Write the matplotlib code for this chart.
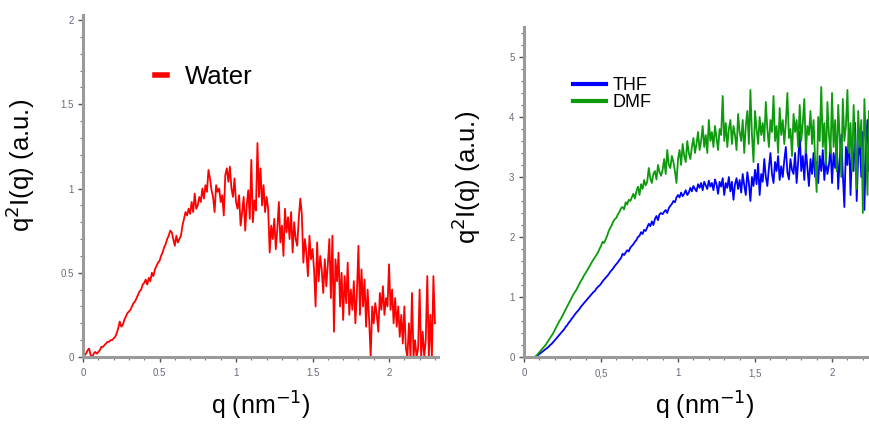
import numpy as np
import matplotlib.pyplot as plt
from matplotlib.ticker import MultipleLocator

plt.rcParams['font.family'] = ['Liberation Sans', 'DejaVu Sans']

# water, q step 0.01 from 0 to 2.30
q_water = np.round(np.arange(0, 231) * 0.01, 2)
water = [
    0.0, 0.01, 0.02, 0.04, 0.05, 0.01, 0.0, 0.02, 0.03, 0.02,
    0.03, 0.04, 0.06, 0.06, 0.07, 0.08, 0.09, 0.09, 0.10, 0.10,
    0.11, 0.12, 0.14, 0.17, 0.21, 0.18, 0.19, 0.22, 0.24, 0.26,
    0.27, 0.28, 0.30, 0.32, 0.33, 0.35, 0.37, 0.39, 0.40, 0.43,
    0.44, 0.46, 0.43, 0.47, 0.45, 0.50, 0.48, 0.52, 0.54, 0.56,
    0.57, 0.60, 0.62, 0.65, 0.67, 0.70, 0.72, 0.75, 0.74, 0.70,
    0.66, 0.72, 0.68, 0.70, 0.72, 0.78, 0.82, 0.86, 0.84, 0.88,
    0.85, 0.92, 0.86, 0.97, 0.88, 0.90, 0.95, 0.92, 1.00, 0.94,
    1.02, 0.98, 1.11, 1.06, 0.99, 0.95, 0.86, 1.02, 0.98, 1.00,
    0.92, 0.96, 0.84, 1.08, 1.12, 1.04, 1.13, 1.00, 0.95, 1.06,
    0.92, 0.88, 0.96, 0.78, 0.86, 0.95, 0.75, 0.90, 0.99, 0.82,
    1.17, 0.80, 0.93, 0.87, 1.27, 0.95, 1.12, 0.90, 1.02, 0.86,
    0.95, 0.88, 0.62, 0.78, 0.70, 0.82, 0.64, 0.76, 0.92, 0.68,
    0.78, 0.60, 0.88, 0.74, 0.83, 0.70, 0.86, 0.62, 0.80, 0.70,
    0.66, 0.82, 0.94, 0.85, 0.56, 0.70, 0.62, 0.48, 0.72, 0.58,
    0.64, 0.52, 0.30, 0.68, 0.45, 0.60, 0.52, 0.38, 0.58, 0.42,
    0.55, 0.70, 0.35, 0.72, 0.15, 0.58, 0.45, 0.62, 0.30, 0.50,
    0.22, 0.48, 0.32, 0.56, 0.25, 0.40, 0.28, 0.45, 0.20, 0.38,
    0.66, 0.25, 0.52, 0.30, 0.46, 0.18, 0.40, 0.22, 0.00, 0.30,
    0.20, 0.32, 0.25, 0.15, 0.38, 0.28, 0.42, 0.25, 0.35, 0.30,
    0.55, 0.28, 0.40, 0.20, 0.35, 0.18, 0.30, 0.12, 0.25, 0.08,
    0.30, 0.05, 0.00, 0.20, 0.00, 0.38, 0.00, 0.10, 0.00, 0.05,
    0.40, 0.00, 0.15, 0.00, 0.10, 0.48, 0.00, 0.25, 0.00, 0.48,
    0.20,
]

# THF / DMF, q step 0.01 from 0 to 2.25
q_solv = np.round(np.arange(0, 226) * 0.01, 2)
thf = [
    0, 0, 0, 0, 0, 0, 0, 0, 0.01, 0.03,
    0.05, 0.07, 0.09, 0.11, 0.13, 0.15, 0.17, 0.20, 0.22, 0.25,
    0.28, 0.31, 0.34, 0.37, 0.40, 0.43, 0.46, 0.50, 0.53, 0.57,
    0.60, 0.64, 0.67, 0.71, 0.74, 0.77, 0.80, 0.84, 0.87, 0.90,
    0.93, 0.96, 0.99, 1.02, 1.05, 1.08, 1.10, 1.14, 1.17, 1.19,
    1.22, 1.26, 1.29, 1.32, 1.35, 1.38, 1.42, 1.45, 1.48, 1.52,
    1.55, 1.58, 1.62, 1.65, 1.72, 1.70, 1.74, 1.78, 1.76, 1.82,
    1.85, 1.88, 1.92, 1.95, 2.00, 2.02, 2.08, 2.05, 2.12, 2.10,
    2.16, 2.22, 2.18, 2.26, 2.20, 2.30, 2.35, 2.28, 2.38, 2.40,
    2.38, 2.42, 2.45, 2.40, 2.48, 2.52, 2.55, 2.60, 2.58, 2.66,
    2.70, 2.66, 2.74, 2.68, 2.72, 2.78, 2.70, 2.74, 2.82, 2.76,
    2.85, 2.80, 2.76, 2.88, 2.82, 2.90, 2.78, 2.92, 2.86, 2.80,
    2.94, 2.84, 2.90, 2.78, 2.96, 2.88, 2.72, 2.92, 2.84, 2.98,
    2.70, 2.90, 2.82, 3.00, 2.76, 2.92, 2.62, 2.88, 2.98, 2.80,
    2.95, 2.74, 3.05, 2.86, 2.70, 3.08, 2.90, 2.60, 3.00, 2.85,
    3.12, 2.88, 3.22, 2.70, 3.05, 2.92, 3.30, 3.00, 2.85, 3.15,
    3.40, 3.05, 2.90, 3.25, 3.10, 3.35, 2.95, 3.18, 3.00, 3.28,
    3.50, 3.08, 2.96, 3.30, 3.12, 3.05, 3.40, 2.90, 3.25, 3.75,
    3.10, 3.35, 2.95, 3.48, 3.15, 2.85, 3.30, 3.05, 3.40, 3.00,
    3.25, 2.90, 3.35, 3.10, 3.45, 2.95, 3.30, 3.05, 3.20, 3.50,
    2.90, 3.40, 3.15, 3.60, 2.80, 3.30, 3.70, 3.05, 2.50, 3.50,
    3.20, 3.80, 2.70, 3.45, 3.10, 3.90, 2.60, 3.35, 3.60, 3.00,
    3.75, 2.45, 3.50, 3.95, 3.10, 3.60,
]
dmf = [
    0, 0, 0, 0, 0, 0, 0, 0, 0.02, 0.05,
    0.08, 0.11, 0.14, 0.17, 0.20, 0.24, 0.28, 0.32, 0.36, 0.40,
    0.45, 0.50, 0.55, 0.60, 0.64, 0.69, 0.74, 0.79, 0.84, 0.89,
    0.94, 0.99, 1.04, 1.08, 1.12, 1.17, 1.22, 1.27, 1.31, 1.36,
    1.40, 1.44, 1.49, 1.53, 1.58, 1.62, 1.66, 1.70, 1.74, 1.80,
    1.85, 1.92, 1.90, 1.96, 2.02, 2.10, 2.15, 2.20, 2.26, 2.30,
    2.32, 2.38, 2.42, 2.48, 2.50, 2.46, 2.58, 2.54, 2.62, 2.60,
    2.66, 2.72, 2.64, 2.76, 2.84, 2.70, 2.88, 2.80, 2.95, 2.86,
    2.92, 3.15, 2.98, 2.90, 3.05, 3.10, 2.96, 3.20, 3.08, 3.02,
    3.12, 3.30, 3.05, 3.45, 3.20, 3.15, 3.35, 3.25, 3.10, 2.90,
    3.30, 3.45, 3.20, 3.55, 3.35, 3.25, 3.60, 3.40, 3.30, 3.50,
    3.65, 3.40, 3.55, 3.75, 3.45, 3.60, 3.85, 3.50, 3.70, 3.40,
    3.95, 3.60, 3.75, 3.50, 3.85, 3.65, 3.45, 3.80, 3.70, 4.35,
    3.60, 3.90, 3.50, 3.80, 3.95, 3.55, 3.85, 3.70, 3.45, 4.05,
    3.75, 3.60, 3.95, 3.40, 3.85, 4.10, 3.55, 4.45, 3.70, 3.25,
    4.10, 3.80, 3.55, 4.00, 3.70, 3.90, 3.60, 4.25, 3.80, 3.50,
    3.95, 3.75, 4.35, 3.60, 3.85, 3.40, 4.15, 3.70, 3.95, 3.55,
    3.90, 4.40, 3.65, 3.80, 3.35, 4.05, 3.75, 3.95, 3.50, 4.20,
    3.60, 3.90, 4.30, 3.40, 3.85, 3.70, 4.10, 3.55, 3.95, 3.30,
    2.75, 4.00, 3.60, 4.50, 3.50, 3.90, 3.20, 4.25, 3.70, 3.40,
    4.40, 3.50, 3.95, 3.10, 4.20, 3.65, 3.00, 4.30, 3.60, 3.85,
    4.45, 3.40, 3.90, 3.10, 4.20, 3.55, 2.80, 4.10, 3.50, 3.95,
    2.40, 4.30, 3.60, 2.70, 4.10, 3.40,
]

left_xticks = [0, 0.5, 1, 1.5, 2]
left_xlabels = ["0", "0.5", "1", "1.5", "2"]
left_yticks = [0, 0.5, 1, 1.5, 2]
left_ylabels = ["0", "0.5", "1", "1.5", "2"]
right_xticks = [0, 0.5, 1, 1.5, 2]
right_xlabels = ["0", "0,5", "1", "1,5", "2"]
right_yticks = [0, 1, 2, 3, 4, 5]
right_ylabels = ["0", "1", "2", "3", "4", "5"]

W, H = 869, 425
fig = plt.figure(figsize=(W / 100, H / 100), dpi=100)
ax1 = fig.add_axes([83 / W, 68 / H, 355 / W, 342 / H])
ax2 = fig.add_axes([524 / W, 68 / H, 345 / W, 330 / H])


def style(ax):
    for s in ["top", "right"]:
        ax.spines[s].set_visible(False)
    for s in ["left", "bottom"]:
        ax.spines[s].set_color("#9a9a9a")
        ax.spines[s].set_linewidth(2.2)
    ax.tick_params(which="major", length=3.8, width=1, color="#555555",
                   labelsize=7, labelcolor="#6a6a7a", pad=3)
    ax.tick_params(which="minor", length=2.4, width=0.8, color="#777777")
    ax.tick_params(axis="x", which="major", pad=10)
    # baseline alignment so "0,5" sits level with "0"
    for lbl in ax.get_xticklabels():
        lbl.set_verticalalignment("baseline")


ax1.plot(q_water, water, color="#ff0000", lw=1.3, label="Water")
ax1.set_xlim(0, 2.32)
ax1.set_ylim(0, 2.03)
ax1.set_xticks(left_xticks)
ax1.set_xticklabels(left_xlabels)
ax1.set_yticks(left_yticks)
ax1.set_yticklabels(left_ylabels)
ax1.xaxis.set_minor_locator(MultipleLocator(0.1))
ax1.yaxis.set_minor_locator(MultipleLocator(0.1))
style(ax1)
ax1.set_ylabel("q$^2$I(q) (a.u.)", fontsize=18.5)
ax1.yaxis.set_label_coords(-0.13, 0.56)
ax1.set_xlabel("q (nm$^{-1}$)", fontsize=18)
ax1.xaxis.set_label_coords(0.5, -0.095)
ax1.legend(loc="upper left", bbox_to_anchor=(0.175, 0.885), frameon=False,
           fontsize=18.5, handlelength=0.45, handletextpad=0.7,
           borderaxespad=0)
for h in ax1.get_legend().get_lines():
    h.set_linewidth(4)

ax2.plot(q_solv, thf, color="#0000ff", lw=1.3, label="THF")
ax2.plot(q_solv, dmf, color="#0d9a0d", lw=1.3, label="DMF")
ax2.set_xlim(0, 2.24)
ax2.set_ylim(0, 5.5)
ax2.set_xticks(right_xticks)
ax2.set_xticklabels(right_xlabels)
ax2.set_yticks(right_yticks)
ax2.set_yticklabels(right_ylabels)
ax2.xaxis.set_minor_locator(MultipleLocator(0.1))
ax2.yaxis.set_minor_locator(MultipleLocator(0.2))
style(ax2)
ax2.set_ylabel("q$^2$I(q) (a.u.)", fontsize=18.5)
ax2.yaxis.set_label_coords(-0.12, 0.545)
ax2.set_xlabel("q (nm$^{-1}$)", fontsize=18)
ax2.xaxis.set_label_coords(0.525, -0.1)
ax2.legend(loc="upper left", bbox_to_anchor=(0.12, 0.87), frameon=False,
           fontsize=13, handlelength=1.85, handletextpad=0.35,
           labelspacing=0.0, borderaxespad=0)
for h in ax2.get_legend().get_lines():
    h.set_linewidth(3)

fig.savefig("out.png", dpi=100)
